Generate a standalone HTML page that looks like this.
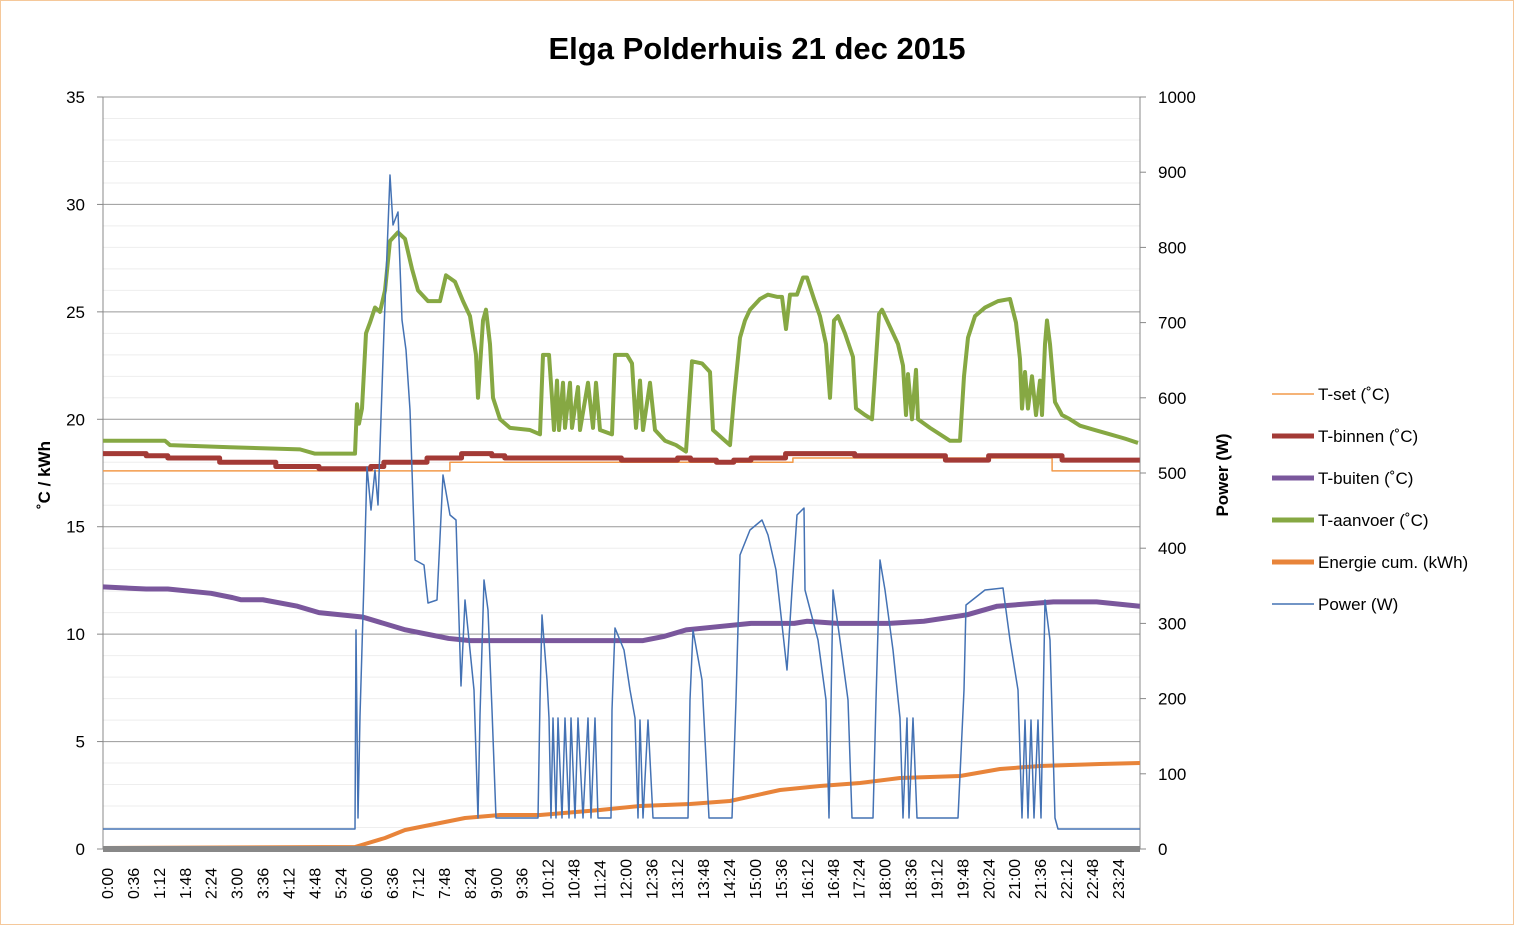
<!DOCTYPE html>
<html><head><meta charset="utf-8"><style>
html,body{margin:0;padding:0;background:#fff;}
svg{display:block;font-family:"Liberation Sans",sans-serif;}
</style></head><body>
<svg id="s" width="1514" height="925" xmlns="http://www.w3.org/2000/svg">
<rect x="0.5" y="0.5" width="1513" height="924" fill="#fff" stroke="#f5c89a"/>
<text x="757" y="59" text-anchor="middle" font-size="31" font-weight="bold">Elga Polderhuis 21 dec 2015</text>
<g id="grid"></g>
<line x1="103" y1="97" x2="103" y2="849" stroke="#888"/>
<line x1="1140" y1="97" x2="1140" y2="849" stroke="#888"/>
<g id="lbl" font-size="17"></g>
<text transform="translate(50,475) rotate(-90)" text-anchor="middle" font-size="17" font-weight="bold">˚C / kWh</text>
<text transform="translate(1228,475) rotate(-90)" text-anchor="middle" font-size="17" font-weight="bold">Power (W)</text>
<g id="ser" fill="none" stroke-linejoin="round"></g>
<rect x="103" y="846" width="1037" height="6" fill="#888"/>
<g font-size="17">
<line x1="1272" y1="394" x2="1314" y2="394" stroke="#f29a4a" stroke-width="1.5"/><text x="1318" y="400">T-set (˚C)</text>
<line x1="1272" y1="436" x2="1314" y2="436" stroke="#a33a36" stroke-width="5"/><text x="1318" y="442">T-binnen (˚C)</text>
<line x1="1272" y1="478" x2="1314" y2="478" stroke="#7a579c" stroke-width="5"/><text x="1318" y="484">T-buiten (˚C)</text>
<line x1="1272" y1="520" x2="1314" y2="520" stroke="#86a843" stroke-width="5"/><text x="1318" y="526">T-aanvoer (˚C)</text>
<line x1="1272" y1="562" x2="1314" y2="562" stroke="#e8843a" stroke-width="5"/><text x="1318" y="568">Energie cum. (kWh)</text>
<line x1="1272" y1="604" x2="1314" y2="604" stroke="#4472b4" stroke-width="1.5"/><text x="1318" y="610">Power (W)</text>
</g>
</svg>
<script>
const NS="http://www.w3.org/2000/svg";
function el(p,t,a,txt){const e=document.createElementNS(NS,t);for(const k in a)e.setAttribute(k,a[k]);if(txt!==undefined)e.textContent=txt;document.getElementById(p).appendChild(e);return e;}
const Y=v=>849-v*752/35;
for(let v=0;v<=35;v++){const y=Y(v);el("grid","line",{x1:103,x2:1140,y1:y,y2:y,stroke:v%5==0?"#999":"#eee","stroke-width":1});}
for(let v=0;v<=35;v+=5){const y=Y(v);el("lbl","text",{x:85,y:y+6,"text-anchor":"end"},String(v));el("grid","line",{x1:97,x2:103,y1:y,y2:y,stroke:"#888"});}
for(let w=0;w<=1000;w+=100){const y=849-w*0.752;el("lbl","text",{x:1158,y:y+6},String(w));el("grid","line",{x1:1140,x2:1146,y1:y,y2:y,stroke:"#888"});}
for(let i=0;i<40;i++){const m=i*36,x=103+m*0.72+4;const t=Math.floor(m/60)+":"+String(m%60).padStart(2,"0");
el("lbl","text",{transform:`translate(${x+6},${899}) rotate(-90)`,"font-size":"16"},t);}
function H(h){return 103+h*43.2;}
function poly(pts,c,w){el("ser","polyline",{points:pts.map(p=>p.join(",")).join(" "),stroke:c,"stroke-width":w});}
function step(arr){const r=[];for(let i=0;i<arr.length;i++){const[h,v]=arr[i];if(i>0)r.push([H(h),Y(arr[i-1][1])]);r.push([H(h),Y(v)]);}return r;}
poly(step([[0,17.6],[8.03,18.0],[15.97,18.2],[21.97,17.6],[24,17.6]]),"#f29a4a",1.5);
poly(step([[0,18.4],[1,18.3],[1.5,18.2],[2.7,18.0],[4,17.8],[5,17.7],[6.2,17.8],[6.5,18.0],[7.5,18.2],[8.3,18.4],[9.0,18.3],[9.3,18.2],[12,18.1],[13.3,18.2],[13.6,18.1],[14.2,18.0],[14.6,18.1],[15,18.2],[15.8,18.4],[17.4,18.3],[19.5,18.1],[20.5,18.3],[22.2,18.1],[24,18.1]]),"#a33a36",5);
poly([[0,12.2],[1,12.1],[1.5,12.1],[2.5,11.9],[3,11.7],[3.2,11.6],[3.7,11.6],[4.5,11.3],[5,11.0],[6,10.8],[7,10.2],[8,9.8],[8.5,9.7],[12.5,9.7],[13,9.9],[13.5,10.2],[14,10.3],[15,10.5],[16,10.5],[16.3,10.6],[17,10.5],[18.2,10.5],[19,10.6],[20,10.9],[20.7,11.3],[22,11.5],[23,11.5],[24,11.3]].map(p=>[H(p[0]),Y(p[1])]),"#7a579c",5);
const g=[[103,19.0],[165,19.0],[170,18.8],[230,18.7],[300,18.6],[315,18.4],[355,18.4],[357,20.7],[359,19.8],[362,20.5],[366,24],[370,24.5],[375,25.2],[380,25],[385,26],[390,28.3],[398,28.7],[405,28.4],[412,27],[418,26],[428,25.5],[440,25.5],[446,26.7],[455,26.4],[463,25.5],[470,24.8],[476,23],[478,21],[483,24.6],[486,25.1],[490,23.5],[493,21],[500,20],[510,19.6],[530,19.5],[540,19.3],[543,23],[549,23],[552,21],[554,19.5],[557,21.8],[559,19.5],[563,21.7],[565,19.6],[570,21.7],[572,19.6],[578,21.5],[580,19.5],[588,21.7],[593,19.6],[596,21.7],[600,19.5],[612,19.3],[615,23],[627,23],[632,22.6],[636,19.6],[640,21.8],[643,19.5],[650,21.7],[655,19.5],[665,19.0],[676,18.8],[686,18.5],[692,22.7],[702,22.6],[710,22.2],[713,19.5],[725,19.0],[730,18.8],[734,21],[740,23.8],[745,24.6],[750,25.1],[760,25.6],[768,25.8],[777,25.7],[782,25.7],[786,24.2],[790,25.8],[797,25.8],[803,26.6],[807,26.6],[814,25.6],[820,24.8],[826,23.5],[830,21],[834,24.6],[838,24.8],[845,24],[853,22.9],[856,20.5],[865,20.2],[872,20],[879,24.9],[882,25.1],[890,24.3],[898,23.5],[903,22.5],[906,20.2],[908,22.1],[912,20],[916,22.3],[918,20],[930,19.6],[940,19.3],[950,19],[960,19],[964,22],[968,23.8],[975,24.8],[985,25.2],[998,25.5],[1010,25.6],[1016,24.5],[1020,22.8],[1022,20.5],[1025,22.2],[1028,20.5],[1032,22],[1036,20.2],[1040,21.8],[1042,20.2],[1045,23.5],[1047,24.6],[1050,23.5],[1055,20.8],[1062,20.2],[1070,20],[1080,19.7],[1095,19.5],[1110,19.3],[1125,19.1],[1138,18.9]];
poly(g.map(p=>[p[0],Y(p[1])]),"#86a843",4);
poly([[103,848],[355,847],[385,838],[405,830],[430,825],[465,818],[500,815],[540,815],[600,810],[640,806],[690,804],[730,801],[780,790],[820,786],[860,783],[900,778],[960,776],[1000,769],[1040,766],[1100,764],[1140,763]],"#e8843a",4);
poly([[103,829],[355,829],[356,630],[358,818],[360,716],[364,580],[367,467],[371,510],[375,470],[378,505],[384,330],[390,175],[393,225],[398,212],[402,320],[406,350],[410,410],[415,560],[424,565],[428,603],[437,600],[443,475],[450,515],[456,520],[461,686],[465,600],[470,650],[474,690],[478,818],[480,715],[484,580],[488,610],[492,710],[496,818],[538,818],[540,700],[542,615],[547,680],[549,718],[551,818],[553,718],[556,818],[558,718],[562,818],[565,718],[569,818],[571,718],[575,818],[578,718],[583,818],[588,718],[591,818],[595,718],[598,818],[611,818],[612,710],[615,628],[624,650],[630,690],[635,718],[638,818],[640,720],[643,818],[648,720],[653,818],[688,818],[690,700],[693,630],[702,680],[709,818],[732,818],[736,700],[740,555],[750,530],[762,520],[768,535],[776,570],[787,670],[792,590],[797,515],[804,508],[805,590],[818,640],[826,700],[829,818],[833,590],[840,640],[848,700],[852,818],[873,818],[876,700],[880,560],[885,590],[893,650],[900,718],[903,818],[907,718],[909,818],[913,718],[917,818],[958,818],[964,690],[966,605],[985,590],[1003,588],[1010,640],[1018,690],[1022,818],[1025,720],[1028,818],[1031,720],[1034,818],[1038,720],[1041,818],[1045,600],[1050,640],[1055,818],[1058,829],[1140,829]],"#4472b4",1.5);
</script>
</body></html>
